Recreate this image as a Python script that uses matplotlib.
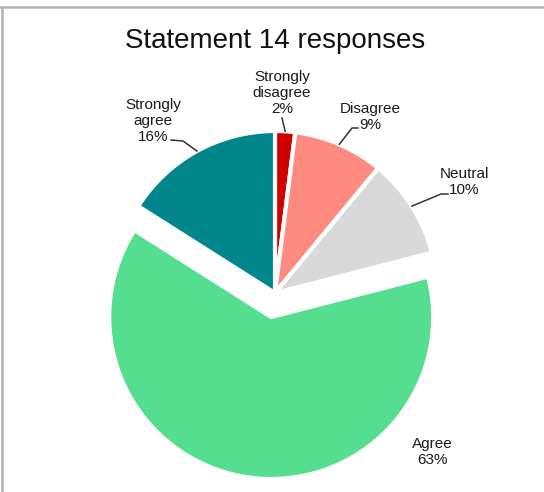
import numpy as np
import matplotlib
matplotlib.use("Agg")
import matplotlib.pyplot as plt
from matplotlib.lines import Line2D

plt.rcParams['font.family'] = ['Liberation Sans', 'DejaVu Sans']

W, H = 544, 492

labels = ["Strongly\ndisagree", "Disagree", "Neutral", "Agree", "Strongly\nagree"]
shares = [2, 9, 10, 63, 16]
colors = ["#d00000", "#ff8a80", "#d9d9d9", "#55de90", "#00868b"]
explode = [0, 0, 0, 0.15, 0]

# label centres and leader lines, in pixels from the top-left corner
label_xy = [(282, 93), (370, 117), (464, 182), (432, 452), (153, 121)]
leader_start = [(282, 118), (358, 128), (448, 194), None, (171, 140)]
leader_elbow = [None, (352, 128), (441, 194), None, (183, 141)]

cx, cy, r = 275, 293, 162


def flip(p):
    return (p[0], H - p[1])


fig = plt.figure(figsize=(W / 100, H / 100), dpi=100)
ax = fig.add_axes([0, 0, 1, 1])

# pie() takes the explode offset in data units, so scale it by the radius
wedges, _ = ax.pie(shares, colors=colors, explode=[e * r for e in explode],
                   startangle=90, counterclock=False, center=flip((cx, cy)),
                   radius=r, wedgeprops=dict(edgecolor='white', linewidth=3))

# pie() resets the limits, so fix the pixel-sized data space afterwards
ax.set_xlim(0, W)
ax.set_ylim(0, H)
ax.set_aspect('equal')
ax.axis('off')

for w, lab, val, pos, start, elbow in zip(wedges, labels, shares, label_xy,
                                           leader_start, leader_elbow):
    ax.text(*flip(pos), f"{lab}\n{val}%", ha='center', va='center',
            fontsize=11, color='#1a1a1a', linespacing=1.2)
    if start is None:
        continue
    mid = np.deg2rad((w.theta1 + w.theta2) / 2)
    wx, wy = w.center
    anchor = (wx + r * np.cos(mid), wy + r * np.sin(mid))
    pts = [flip(start)]
    if elbow is not None:
        pts.append(flip(elbow))
    pts.append(anchor)
    xs, ys = zip(*pts)
    ax.plot(xs, ys, color='#333333', linewidth=1.1)

ax.text(W / 2 + 3, H - 48, "Statement 14 responses", ha='center',
        va='baseline', fontsize=20, color='#111111')

# thin frame along the top and left edges
fig.add_artist(Line2D([0, 1], [1 - 7 / H, 1 - 7 / H], color='#b3b3b3',
                      linewidth=1.8, transform=fig.transFigure))
fig.add_artist(Line2D([1.5 / W, 1.5 / W], [0, 1 - 7 / H], color='#b3b3b3',
                      linewidth=1.8, transform=fig.transFigure))

fig.savefig("out.png", dpi=100, facecolor='white')
